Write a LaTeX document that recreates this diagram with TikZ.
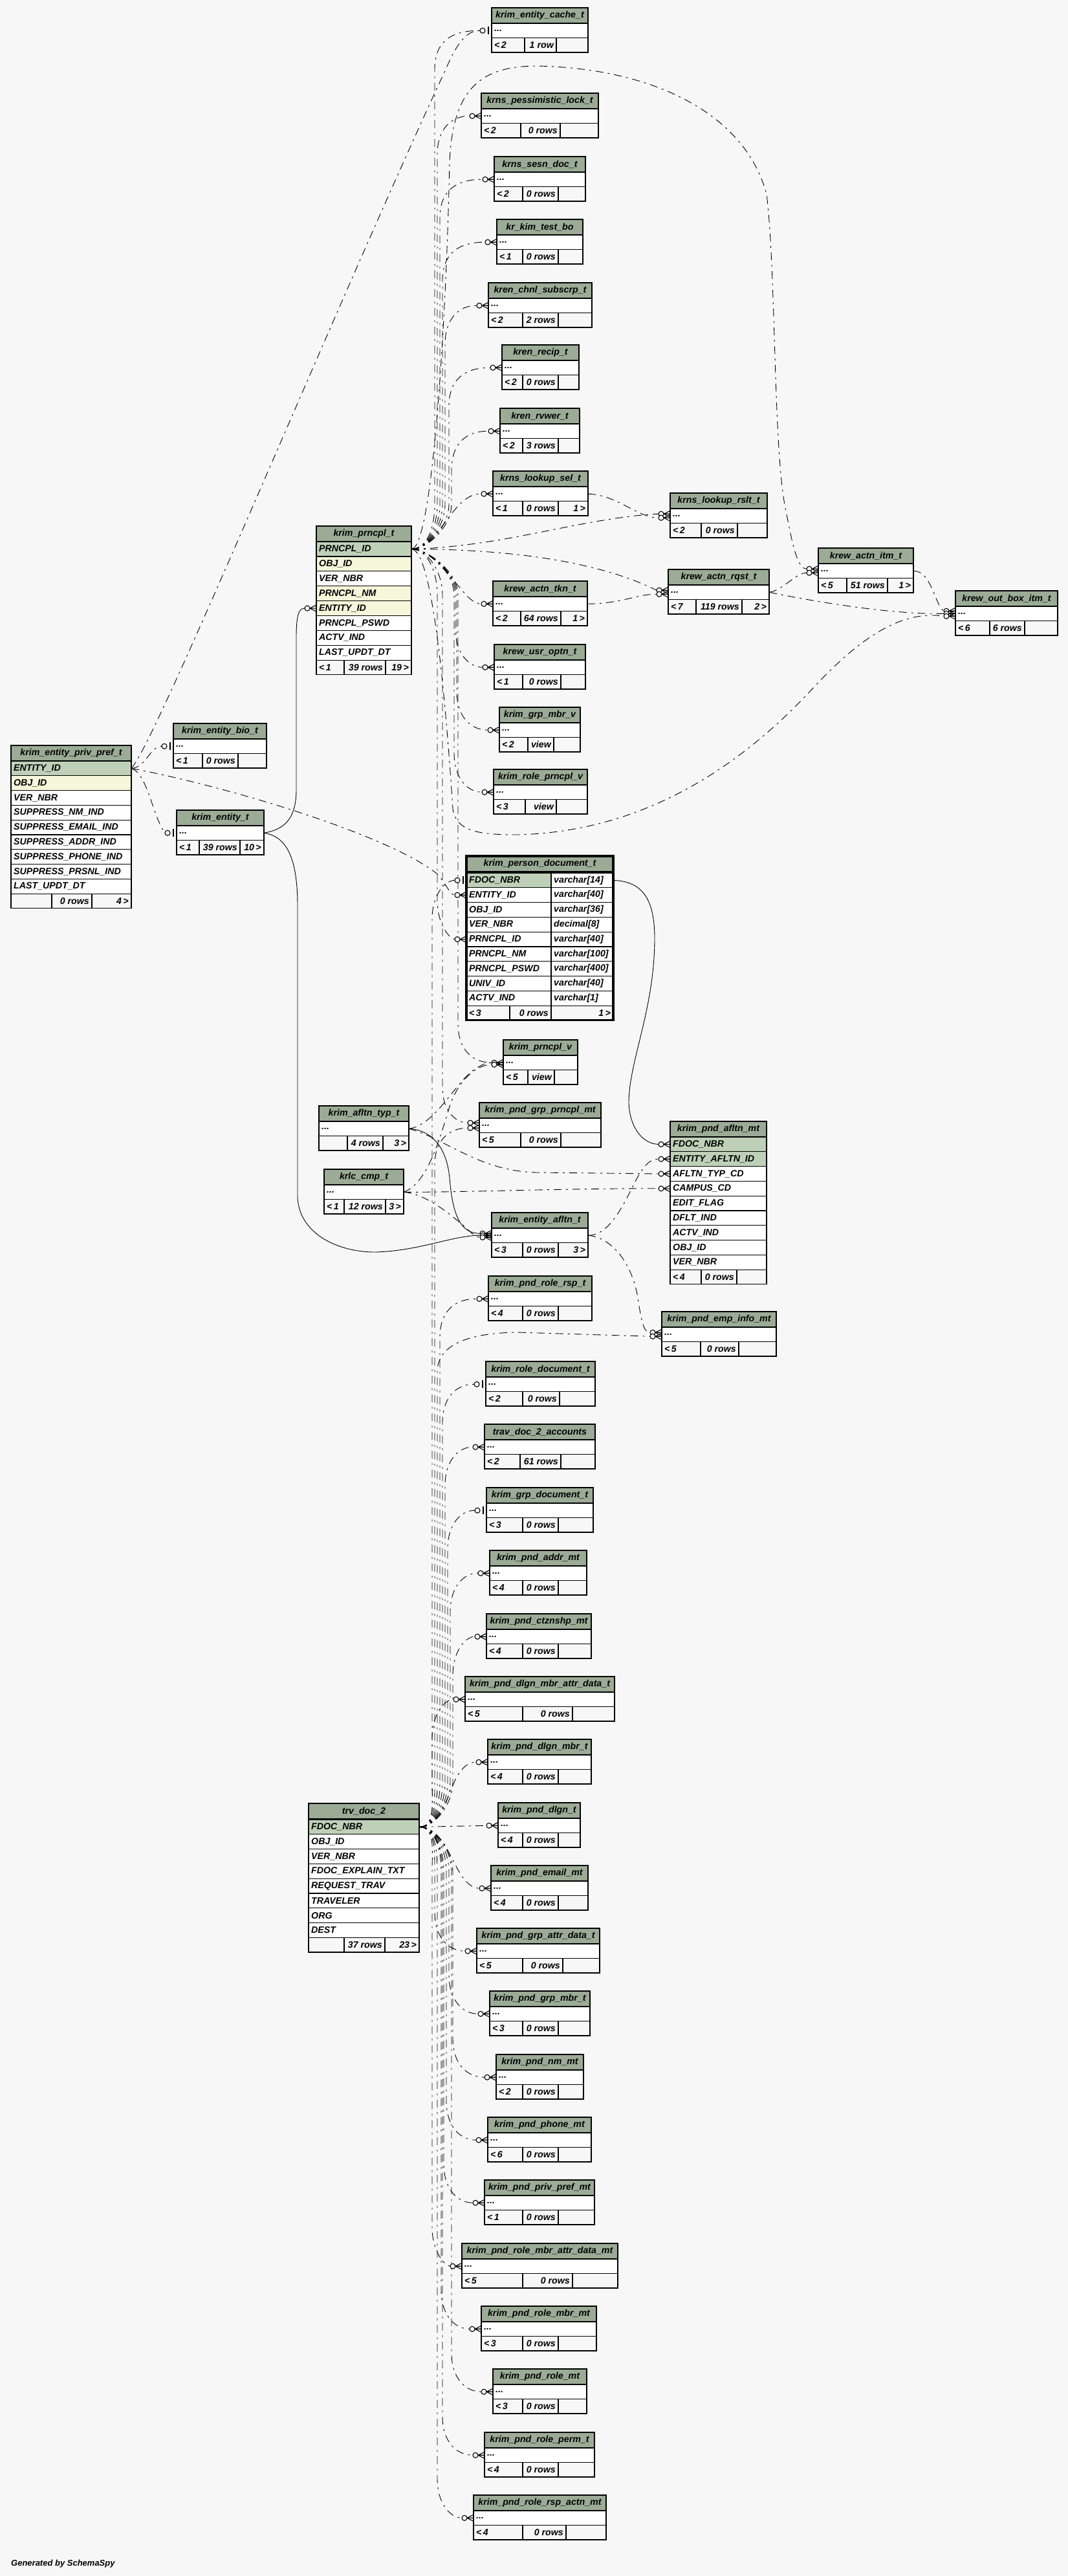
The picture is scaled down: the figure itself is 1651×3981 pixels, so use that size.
\documentclass[tikz,border=0pt]{standalone}
\usepackage{fontspec}
\setmainfont{Liberation Sans}
\usetikzlibrary{calc}
\definecolor{bg}{HTML}{F7F7F7}
\definecolor{hd}{HTML}{9BAB96}
\definecolor{pk}{HTML}{BED1B8}
\definecolor{ix}{HTML}{F4F7DA}
\pgfdeclarelayer{bgl}
\pgfsetlayers{bgl,main}
\tikzset{
  cellb/.style={draw=black, line width=1.2pt, inner sep=0pt, outer sep=0pt, anchor=north west},
  txt/.style={font=\fontsize{14.2}{16}\selectfont\bfseries\itshape, inner sep=0pt, text=black},
  rel/.style={draw=black, line width=0.9pt, dash pattern=on 12pt off 7pt on 3pt off 7pt},
  fk/.style={draw=black, line width=0.9pt},
  mk/.style={draw=black, line width=1.1pt},
}
\newcommand\hcell[5]{%
  \node[cellb, fill=hd, minimum width={#3-#2}, minimum height=24] (#1-h) at ({#2},{#4}) {};
  \node[txt] (#1-ht) at (#1-h.center) {#5};}
\newcommand\rcell[7]{%
  \node[cellb, fill=#6, minimum width={#3-#2}, minimum height={#5}] (#1) at ({#2},{#4}) {};
  \node[txt, anchor=west] (#1-t) at ([xshift=4pt]#1.west) {#7};}
\newcommand\stbl[5]{\hcell{#1}{#2}{#3}{#4}{#5}\rcell{#1-r}{#2}{#3}{#4+24}{22.5}{white}{...}}
\newcommand\fcells[9]{%
  \node[cellb, fill=bg, minimum width={#3-#2}, minimum height=22.5] (#1-f1) at ({#2},{#6}) {};
  \node[cellb, fill=bg, minimum width={#4-#3}, minimum height=22.5] (#1-f2) at ({#3},{#6}) {};
  \node[cellb, fill=bg, minimum width={#5-#4}, minimum height=22.5] (#1-f3) at ({#4},{#6}) {};
  \node[txt, anchor=west] (#1-f1t) at ([xshift=4pt]#1-f1.west) {#7};
  \node[txt, anchor=east] (#1-f2t) at ([xshift=-4pt]#1-f2.east) {#8};
  \node[txt, anchor=east] (#1-f3t) at ([xshift=-4pt]#1-f3.east) {#9};}
\newcommand\crow[2][0]{%
  \draw[mk] ([xshift=-10pt,yshift=#1pt]#2.west) -- ([yshift=#1pt+5pt]#2.west)
    ([xshift=-10pt,yshift=#1pt]#2.west) -- ([yshift=#1pt]#2.west)
    ([xshift=-10pt,yshift=#1pt]#2.west) -- ([yshift=#1pt-5pt]#2.west);
  \draw[mk, fill=bg] ([xshift=-14pt,yshift=#1pt]#2.west) circle (4pt);}
\newcommand\onebar[2][0]{%
  \draw[mk, line width=2.2pt] ([xshift=-5pt,yshift=#1pt+6pt]#2.west) -- ([xshift=-5pt,yshift=#1pt-6pt]#2.west);
  \draw[mk, fill=bg] ([xshift=-14pt,yshift=#1pt]#2.west) circle (4pt);}
\newcommand\eup[5]{\draw[rel] (#1) .. controls +(25,0) and ({#3},{#4-35}) .. ({#3},{#4-70}) -- ({#3},{#5+60}) .. controls ({#3},{#5+22}) and ({#3+20},{#5}) .. ([xshift=-18pt]#2.west);}
\newcommand\edn[5]{\draw[rel] (#1) .. controls +(25,0) and ({#3},{#4+35}) .. ({#3},{#4+70}) -- ({#3},{#5-60}) .. controls ({#3},{#5-22}) and ({#3+20},{#5}) .. ([xshift=-18pt]#2.west);}

\begin{document}
\begin{tikzpicture}[x=1pt,y=-1pt]
\begin{pgfonlayer}{bgl}
\fill[bg] (0,0) rectangle (1651,3981);
\end{pgfonlayer}
\useasboundingbox (0,0) rectangle (1651,3981);

% ---------- small tables ----------
\stbl{cache}{760}{909}{12}{krim\_entity\_cache\_t}
\fcells{cache}{760}{811}{860}{909}{12+46.5}{<\,2}{1 row}{}
\stbl{plock}{744}{925}{144}{krns\_pessimistic\_lock\_t}
\fcells{plock}{744}{805}{866}{925}{144+46.5}{<\,2}{0 rows}{}
\stbl{sesn}{764}{905}{242}{krns\_sesn\_doc\_t}
\fcells{sesn}{764}{808}{863}{905}{242+46.5}{<\,2}{0 rows}{}
\stbl{ktb}{768}{901}{339}{kr\_kim\_test\_bo}
\fcells{ktb}{768}{808}{863}{901}{339+46.5}{<\,1}{0 rows}{}
\stbl{chnl}{755}{915}{437}{kren\_chnl\_subscrp\_t}
\fcells{chnl}{755}{808}{863}{915}{437+46.5}{<\,2}{2 rows}{}
\stbl{recip}{776}{895}{533}{kren\_recip\_t}
\fcells{recip}{776}{808}{863}{895}{533+46.5}{<\,2}{0 rows}{}
\stbl{rvwer}{773}{896}{631}{kren\_rvwer\_t}
\fcells{rvwer}{773}{808}{863}{896}{631+46.5}{<\,2}{3 rows}{}
\stbl{lsel}{762}{909}{728}{krns\_lookup\_sel\_t}
\fcells{lsel}{762}{808}{863}{909}{728+46.5}{<\,1}{0 rows}{1\,>}
\stbl{lrslt}{1036}{1186}{762}{krns\_lookup\_rslt\_t}
\fcells{lrslt}{1036}{1084}{1140}{1186}{762+46.5}{<\,2}{0 rows}{}
\stbl{arqst}{1033}{1189}{880}{krew\_actn\_rqst\_t}
\fcells{arqst}{1033}{1076}{1147}{1189}{880+46.5}{<\,7}{119 rows}{2\,>}
\stbl{aitm}{1265}{1412}{847}{krew\_actn\_itm\_t}
\fcells{aitm}{1265}{1309}{1372}{1412}{847+46.5}{<\,5}{51 rows}{1\,>}
\stbl{obox}{1477}{1635}{913}{krew\_out\_box\_itm\_t}
\fcells{obox}{1477}{1530}{1584}{1635}{913+46.5}{<\,6}{6 rows}{}
\stbl{atkn}{762}{908}{898}{krew\_actn\_tkn\_t}
\fcells{atkn}{762}{805}{867}{908}{898+46.5}{<\,2}{64 rows}{1\,>}
\stbl{uoptn}{764}{905}{996}{krew\_usr\_optn\_t}
\fcells{uoptn}{764}{808}{867}{905}{996+46.5}{<\,1}{0 rows}{}
\stbl{gmbrv}{772}{897}{1093}{krim\_grp\_mbr\_v}
\fcells{gmbrv}{772}{816}{856}{897}{1093+46.5}{<\,2}{view}{}
\stbl{rprv}{763}{908}{1189}{krim\_role\_prncpl\_v}
\fcells{rprv}{763}{812}{860}{908}{1189+46.5}{<\,3}{view}{}
\stbl{ebio}{268}{412}{1118}{krim\_entity\_bio\_t}
\fcells{ebio}{268}{313}{368}{412}{1118+46.5}{<\,1}{0 rows}{}
\stbl{ent}{273}{408}{1252}{krim\_entity\_t}
\fcells{ent}{273}{308}{371}{408}{1252+46.5}{<\,1}{39 rows}{10\,>}
\stbl{prv}{778}{893}{1607}{krim\_prncpl\_v}
\fcells{prv}{778}{816}{857}{893}{1607+46.5}{<\,5}{view}{}
\stbl{pgp}{741}{929}{1704}{krim\_pnd\_grp\_prncpl\_mt}
\fcells{pgp}{741}{805}{867}{929}{1704+46.5}{<\,5}{0 rows}{}
\stbl{atyp}{493}{632}{1709}{krim\_afltn\_typ\_t}
\fcells{atyp}{493}{537}{592}{632}{1709+46.5}{}{4 rows}{3\,>}
\stbl{cmp}{501}{624}{1807}{krlc\_cmp\_t}
\fcells{cmp}{501}{532}{596}{624}{1807+46.5}{<\,1}{12 rows}{3\,>}
\stbl{eafl}{760}{909}{1874}{krim\_entity\_afltn\_t}
\fcells{eafl}{760}{808}{863}{909}{1874+46.5}{<\,3}{0 rows}{3\,>}
\stbl{emp}{1023}{1200}{2027}{krim\_pnd\_emp\_info\_mt}
\fcells{emp}{1023}{1083}{1142}{1200}{2027+46.5}{<\,5}{0 rows}{}
\stbl{rrsp}{755}{915}{1972}{krim\_pnd\_role\_rsp\_t}
\fcells{rrsp}{755}{808}{863}{915}{1972+46.5}{<\,4}{0 rows}{}
\stbl{rdoc}{751}{920}{2104}{krim\_role\_document\_t}
\fcells{rdoc}{751}{808}{865}{920}{2104+46.5}{<\,2}{0 rows}{}
\stbl{acct}{749}{920}{2201}{trav\_doc\_2\_accounts}
\fcells{acct}{749}{804}{867}{920}{2201+46.5}{<\,2}{61 rows}{}
\stbl{gdoc}{752}{917}{2299}{krim\_grp\_document\_t}
\fcells{gdoc}{752}{808}{863}{917}{2299+46.5}{<\,3}{0 rows}{}
\stbl{addr}{757}{907}{2396}{krim\_pnd\_addr\_mt}
\fcells{addr}{757}{808}{863}{907}{2396+46.5}{<\,4}{0 rows}{}
\stbl{ctz}{752}{914}{2494}{krim\_pnd\_ctznshp\_mt}
\fcells{ctz}{752}{808}{863}{914}{2494+46.5}{<\,4}{0 rows}{}
\stbl{dmad}{719}{950}{2591}{krim\_pnd\_dlgn\_mbr\_attr\_data\_t}
\fcells{dmad}{719}{808}{885}{950}{2591+46.5}{<\,5}{0 rows}{}
\stbl{dmbr}{754}{914}{2688}{krim\_pnd\_dlgn\_mbr\_t}
\fcells{dmbr}{754}{808}{863}{914}{2688+46.5}{<\,4}{0 rows}{}
\stbl{dlgn}{770}{897}{2786}{krim\_pnd\_dlgn\_t}
\fcells{dlgn}{770}{808}{863}{897}{2786+46.5}{<\,4}{0 rows}{}
\stbl{email}{759}{909}{2883}{krim\_pnd\_email\_mt}
\fcells{email}{759}{808}{863}{909}{2883+46.5}{<\,4}{0 rows}{}
\stbl{gad}{737}{927}{2980}{krim\_pnd\_grp\_attr\_data\_t}
\fcells{gad}{737}{808}{870}{927}{2980+46.5}{<\,5}{0 rows}{}
\stbl{gmbr}{757}{912}{3077}{krim\_pnd\_grp\_mbr\_t}
\fcells{gmbr}{757}{808}{863}{912}{3077+46.5}{<\,3}{0 rows}{}
\stbl{nm}{767}{902}{3175}{krim\_pnd\_nm\_mt}
\fcells{nm}{767}{808}{863}{902}{3175+46.5}{<\,2}{0 rows}{}
\stbl{phone}{754}{914}{3272}{krim\_pnd\_phone\_mt}
\fcells{phone}{754}{808}{863}{914}{3272+46.5}{<\,6}{0 rows}{}
\stbl{ppref}{749}{919}{3369}{krim\_pnd\_priv\_pref\_mt}
\fcells{ppref}{749}{808}{863}{919}{3369+46.5}{<\,1}{0 rows}{}
\stbl{rmad}{714}{955}{3467}{krim\_pnd\_role\_mbr\_attr\_data\_mt}
\fcells{rmad}{714}{808}{885}{955}{3467+46.5}{<\,5}{0 rows}{}
\stbl{rmbr}{744}{922}{3564}{krim\_pnd\_role\_mbr\_mt}
\fcells{rmbr}{744}{808}{863}{922}{3564+46.5}{<\,3}{0 rows}{}
\stbl{rmt}{762}{907}{3661}{krim\_pnd\_role\_mt}
\fcells{rmt}{762}{808}{863}{907}{3661+46.5}{<\,3}{0 rows}{}
\stbl{rperm}{749}{919}{3759}{krim\_pnd\_role\_perm\_t}
\fcells{rperm}{749}{808}{863}{919}{3759+46.5}{<\,4}{0 rows}{}
\stbl{rra}{732}{937}{3856}{krim\_pnd\_role\_rsp\_actn\_mt}
\fcells{rra}{732}{808}{875}{937}{3856+46.5}{<\,4}{0 rows}{}

% ---------- krim_prncpl_t ----------
\hcell{prn}{489}{636}{813}{krim\_prncpl\_t}
\rcell{prn-1}{489}{636}{837}{22.9}{pk}{PRNCPL\_ID}
\rcell{prn-2}{489}{636}{859.9}{22.9}{ix}{OBJ\_ID}
\rcell{prn-3}{489}{636}{882.8}{22.9}{white}{VER\_NBR}
\rcell{prn-4}{489}{636}{905.7}{22.9}{ix}{PRNCPL\_NM}
\rcell{prn-5}{489}{636}{928.6}{22.9}{ix}{ENTITY\_ID}
\rcell{prn-6}{489}{636}{951.5}{22.9}{white}{PRNCPL\_PSWD}
\rcell{prn-7}{489}{636}{974.4}{22.9}{white}{ACTV\_IND}
\rcell{prn-8}{489}{636}{997.3}{22.9}{white}{LAST\_UPDT\_DT}
\fcells{prn}{489}{532}{596}{636}{1020.2}{<\,1}{39 rows}{19\,>}

% ---------- krim_entity_priv_pref_t ----------
\hcell{epp}{17}{203}{1152}{krim\_entity\_priv\_pref\_t}
\rcell{epp-1}{17}{203}{1176}{22.8}{pk}{ENTITY\_ID}
\rcell{epp-2}{17}{203}{1198.8}{22.8}{ix}{OBJ\_ID}
\rcell{epp-3}{17}{203}{1221.6}{22.8}{white}{VER\_NBR}
\rcell{epp-4}{17}{203}{1244.4}{22.8}{white}{SUPPRESS\_NM\_IND}
\rcell{epp-5}{17}{203}{1267.2}{22.8}{white}{SUPPRESS\_EMAIL\_IND}
\rcell{epp-6}{17}{203}{1290}{22.8}{white}{SUPPRESS\_ADDR\_IND}
\rcell{epp-7}{17}{203}{1312.8}{22.8}{white}{SUPPRESS\_PHONE\_IND}
\rcell{epp-8}{17}{203}{1335.6}{22.8}{white}{SUPPRESS\_PRSNL\_IND}
\rcell{epp-9}{17}{203}{1358.4}{22.8}{white}{LAST\_UPDT\_DT}
\fcells{epp}{17}{80}{142}{203}{1381.2}{}{0 rows}{4\,>}

% ---------- krim_person_document_t ----------
\hcell{pdoc}{721}{948}{1323}{krim\_person\_document\_t}
\rcell{pdoc-1}{721}{852}{1349}{22.8}{pk}{FDOC\_NBR}
\rcell{pdoc-1b}{852}{948}{1349}{22.8}{white}{varchar[14]}
\rcell{pdoc-2}{721}{852}{1371.8}{22.8}{white}{ENTITY\_ID}
\rcell{pdoc-2b}{852}{948}{1371.8}{22.8}{white}{varchar[40]}
\rcell{pdoc-3}{721}{852}{1394.6}{22.8}{white}{OBJ\_ID}
\rcell{pdoc-3b}{852}{948}{1394.6}{22.8}{white}{varchar[36]}
\rcell{pdoc-4}{721}{852}{1417.4}{22.8}{white}{VER\_NBR}
\rcell{pdoc-4b}{852}{948}{1417.4}{22.8}{white}{decimal[8]}
\rcell{pdoc-5}{721}{852}{1440.2}{22.8}{white}{PRNCPL\_ID}
\rcell{pdoc-5b}{852}{948}{1440.2}{22.8}{white}{varchar[40]}
\rcell{pdoc-6}{721}{852}{1463}{22.8}{white}{PRNCPL\_NM}
\rcell{pdoc-6b}{852}{948}{1463}{22.8}{white}{varchar[100]}
\rcell{pdoc-7}{721}{852}{1485.8}{22.8}{white}{PRNCPL\_PSWD}
\rcell{pdoc-7b}{852}{948}{1485.8}{22.8}{white}{varchar[400]}
\rcell{pdoc-8}{721}{852}{1508.6}{22.8}{white}{UNIV\_ID}
\rcell{pdoc-8b}{852}{948}{1508.6}{22.8}{white}{varchar[40]}
\rcell{pdoc-9}{721}{852}{1531.4}{22.8}{white}{ACTV\_IND}
\rcell{pdoc-9b}{852}{948}{1531.4}{22.8}{white}{varchar[1]}
\fcells{pdoc}{721}{788}{852}{948}{1554.2}{<\,3}{0 rows}{1\,>}
\draw[line width=3.5pt] (pdoc-h.north west) rectangle (pdoc-f3.south east);

% ---------- krim_pnd_afltn_mt ----------
\hcell{pafl}{1036}{1185}{1733}{krim\_pnd\_afltn\_mt}
\rcell{pafl-1}{1036}{1185}{1757}{22.8}{pk}{FDOC\_NBR}
\rcell{pafl-2}{1036}{1185}{1779.8}{22.8}{pk}{ENTITY\_AFLTN\_ID}
\rcell{pafl-3}{1036}{1185}{1802.6}{22.8}{white}{AFLTN\_TYP\_CD}
\rcell{pafl-4}{1036}{1185}{1825.4}{22.8}{white}{CAMPUS\_CD}
\rcell{pafl-5}{1036}{1185}{1848.2}{22.8}{white}{EDIT\_FLAG}
\rcell{pafl-6}{1036}{1185}{1871}{22.8}{white}{DFLT\_IND}
\rcell{pafl-7}{1036}{1185}{1893.8}{22.8}{white}{ACTV\_IND}
\rcell{pafl-8}{1036}{1185}{1916.6}{22.8}{white}{OBJ\_ID}
\rcell{pafl-9}{1036}{1185}{1939.4}{22.8}{white}{VER\_NBR}
\fcells{pafl}{1036}{1084}{1139}{1185}{1962.2}{<\,4}{0 rows}{}

% ---------- trv_doc_2 ----------
\hcell{trv}{477}{648}{2787}{trv\_doc\_2}
\rcell{trv-1}{477}{648}{2812}{22.8}{pk}{FDOC\_NBR}
\rcell{trv-2}{477}{648}{2834.8}{22.8}{white}{OBJ\_ID}
\rcell{trv-3}{477}{648}{2857.6}{22.8}{white}{VER\_NBR}
\rcell{trv-4}{477}{648}{2880.4}{22.8}{white}{FDOC\_EXPLAIN\_TXT}
\rcell{trv-5}{477}{648}{2903.2}{22.8}{white}{REQUEST\_TRAV}
\rcell{trv-6}{477}{648}{2926}{22.8}{white}{TRAVELER}
\rcell{trv-7}{477}{648}{2948.8}{22.8}{white}{ORG}
\rcell{trv-8}{477}{648}{2971.6}{22.8}{white}{DEST}
\fcells{trv}{477}{532}{595}{648}{2994.4}{}{37 rows}{23\,>}

\node[txt, anchor=west, font=\fontsize{13}{15}\selectfont\bfseries\itshape] (gen) at (17,3962) {Generated by SchemaSpy};

% ---------- connectors ----------
\begin{pgfonlayer}{bgl}
% from krim_prncpl_t.PRNCPL_ID
\eup{prn-1.east}{cache-r}{672}{849}{47}
\eup{prn-1.east}{plock-r}{676}{849}{179}
\eup{prn-1.east}{sesn-r}{680}{849}{277}
\eup{prn-1.east}{ktb-r}{684}{849}{374}
\eup{prn-1.east}{chnl-r}{688}{849}{472}
\eup{prn-1.east}{recip-r}{694}{849}{568}
\eup{prn-1.east}{rvwer-r}{698}{849}{666}
\draw[rel] (prn-1.east) .. controls (665,849) and (690,800) .. (710,780) .. controls (722,768) and (732,763) .. ([xshift=-18pt]lsel-r.west);
\draw[rel] (prn-1.east) .. controls (780,845) and (900,800) .. ([xshift=-18pt,yshift=3pt]lrslt-r.west);
\draw[rel] (prn-1.east) .. controls (800,849) and (930,870) .. ([xshift=-18pt,yshift=3pt]arqst-r.west);
\draw[rel] (prn-1.east) .. controls (668,849) and (690,500) .. (695,250) .. controls (700,140) and (740,102) .. (830,102) .. controls (1000,105) and (1150,170) .. (1185,300) .. controls (1200,420) and (1195,700) .. (1215,790) .. controls (1225,840) and (1232,879) .. ([xshift=-18pt,yshift=3pt]aitm-r.west);
\draw[rel] (prn-1.east) .. controls (670,849) and (690,1100) .. (700,1250) .. controls (705,1285) and (740,1290) .. (800,1290) .. controls (1000,1285) and (1150,1180) .. (1260,1060) .. controls (1340,975) and (1400,944) .. ([xshift=-18pt,yshift=-4pt]obox-r.west);
\draw[rel] (prn-1.east) .. controls (665,849) and (690,885) .. (710,907) .. controls (722,922) and (732,933) .. ([xshift=-18pt]atkn-r.west);
\edn{prn-1.east}{uoptn-r}{704}{849}{1031}
\edn{prn-1.east}{gmbrv-r}{706}{849}{1128}
\edn{prn-1.east}{rprv-r}{702}{849}{1224}
\edn{prn-1.east}{pdoc-5}{676}{849}{1451.6}
\edn{prn-1.east}{prv-r}{708}{849}{1642}
\draw[rel] (prn-1.east) .. controls +(25,0) and (684,884) .. (684,919) -- (684,1680) .. controls (684,1717) and (704,1735) .. ([xshift=-18pt,yshift=4pt]pgp-r.west);
% from krim_entity_priv_pref_t.ENTITY_ID
\draw[rel] (epp-1.east) .. controls (225,1187) and (232,1153) .. ([xshift=-18pt]ebio-r.west);
\draw[rel] (epp-1.east) .. controls (228,1195) and (236,1262) .. ([xshift=-18pt]ent-r.west);
\draw[rel] (epp-1.east) .. controls (350,1215) and (600,1290) .. (675,1350) .. controls (690,1365) and (695,1383) .. ([xshift=-18pt]pdoc-2.west);
\draw[rel] (epp-1.east) .. controls (240,1150) and (520,470) .. (690,105) .. controls (705,70) and (720,47) .. ([xshift=-18pt]cache-r.west);
% from krim_entity_t
\draw[fk] (ent-r.east) .. controls (440,1282) and (458,1265) .. (458,1220) -- (458,985) .. controls (458,950) and (462,940) .. ([xshift=-18pt]prn-5.west);
\draw[fk] (ent-r.east) .. controls (440,1292) and (460,1320) .. (460,1400) -- (460,1850) .. controls (462,1905) and (520,1935) .. (580,1935) .. controls (650,1933) and (700,1909) .. ([xshift=-18pt]eafl-r.west);
% from krim_afltn_typ_t
\draw[fk] (atyp-r.east) .. controls (665,1746) and (690,1770) .. (695,1820) .. controls (700,1885) and (715,1906) .. ([xshift=-18pt,yshift=3pt]eafl-r.west);
\draw[rel] (atyp-r.east) .. controls (690,1760) and (740,1810) .. (830,1812) -- ([xshift=-18pt]pafl-3.west);
\draw[rel] (atyp-r.east) .. controls (670,1740) and (700,1680) .. (730,1655) .. controls (745,1645) and (752,1642) .. ([xshift=-18pt]prv-r.west);
% from krlc_cmp_t
\draw[rel] (cmp-r.east) .. controls (700,1843) and (900,1836) .. ([xshift=-18pt]pafl-4.west);
\draw[rel] (cmp-r.east) .. controls (660,1845) and (700,1880) .. (720,1897) .. controls (728,1905) and (735,1912) .. ([xshift=-18pt,yshift=-3pt]eafl-r.west);
\draw[rel] (cmp-r.east) .. controls (660,1830) and (680,1760) .. (695,1710) .. controls (710,1665) and (740,1645) .. ([xshift=-18pt,yshift=-3pt]prv-r.west);
% from krim_entity_afltn_t
\draw[rel] (eafl-r.east) .. controls (940,1909) and (960,1870) .. (980,1830) .. controls (995,1800) and (1005,1791) .. ([xshift=-18pt]pafl-2.west);
\draw[rel] (eafl-r.east) .. controls (945,1912) and (975,1950) .. (985,2000) .. controls (992,2045) and (995,2059) .. ([xshift=-18pt,yshift=3pt]emp-r.west);
% from krim_person_document_t.FDOC_NBR (real key)
\draw[fk] (pdoc-1b.east) .. controls (990,1362) and (1012,1385) .. (1012,1450) .. controls (1012,1560) and (972,1640) .. (972,1705) .. controls (974,1745) and (995,1768) .. ([xshift=-18pt]pafl-1.west);
% krew / krns chain
\draw[rel] (lsel-r.east) .. controls (955,765) and (985,800) .. ([xshift=-18pt,yshift=-3pt]lrslt-r.west);
\draw[rel] (atkn-r.east) .. controls (960,933) and (985,918) .. ([xshift=-18pt,yshift=-3pt]arqst-r.west);
\draw[rel] (arqst-r.east) .. controls (1210,913) and (1230,885) .. ([xshift=-18pt,yshift=-3pt]aitm-r.west);
\draw[rel] (arqst-r.east) .. controls (1260,930) and (1380,950) .. ([xshift=-18pt]obox-r.west);
\draw[rel] (aitm-r.east) .. controls (1440,882) and (1445,935) .. ([xshift=-18pt,yshift=4pt]obox-r.west);
% from trv_doc_2.FDOC_NBR
\eup{trv-1.east}{pdoc-1}{668}{2823}{1360.4}
\draw[rel] (trv-1.east) .. controls +(25,0) and (672,2788) .. (672,2753) -- (672,1800) .. controls (672,1765) and (692,1743) .. ([xshift=-18pt,yshift=-4pt]pgp-r.west);
\draw[rel] (trv-1.east) .. controls +(25,0) and (676,2788) .. (676,2753) -- (676,2120) .. controls (676,2080) and (720,2060) .. (800,2059) -- ([xshift=-18pt,yshift=-3pt]emp-r.west);
\eup{trv-1.east}{rrsp-r}{680}{2823}{2007}
\eup{trv-1.east}{rdoc-r}{684}{2823}{2139}
\eup{trv-1.east}{acct-r}{688}{2823}{2236}
\eup{trv-1.east}{gdoc-r}{692}{2823}{2334}
\eup{trv-1.east}{addr-r}{696}{2823}{2431}
\eup{trv-1.east}{ctz-r}{700}{2823}{2529}
\eup{trv-1.east}{dmad-r}{668}{2823}{2626}
\draw[rel] (trv-1.east) .. controls (680,2823) and (690,2780) .. (705,2748) .. controls (715,2730) and (725,2723) .. ([xshift=-18pt]dmbr-r.west);
\draw[rel] (trv-1.east) -- ([xshift=-18pt]dlgn-r.west);
\draw[rel] (trv-1.east) .. controls (680,2823) and (695,2868) .. (710,2893) .. controls (720,2910) and (730,2918) .. ([xshift=-18pt]email-r.west);
\edn{trv-1.east}{gad-r}{672}{2823}{3015}
\edn{trv-1.east}{gmbr-r}{694}{2823}{3112}
\edn{trv-1.east}{nm-r}{700}{2823}{3210}
\edn{trv-1.east}{phone-r}{690}{2823}{3307}
\edn{trv-1.east}{ppref-r}{686}{2823}{3404}
\edn{trv-1.east}{rmad-r}{668}{2823}{3502}
\edn{trv-1.east}{rmbr-r}{682}{2823}{3599}
\edn{trv-1.east}{rmt-r}{698}{2823}{3696}
\edn{trv-1.east}{rperm-r}{684}{2823}{3794}
\edn{trv-1.east}{rra-r}{676}{2823}{3891}
\end{pgfonlayer}

% ---------- end markers ----------
\onebar{cache-r}
\onebar{ebio-r}
\onebar{ent-r}
\onebar{rdoc-r}
\onebar{gdoc-r}
\onebar{pdoc-1}
\crow{plock-r}\crow{sesn-r}\crow{ktb-r}\crow{chnl-r}\crow{recip-r}\crow{rvwer-r}\crow{lsel-r}
\crow[3]{lrslt-r}\crow[-3]{lrslt-r}
\crow[3]{arqst-r}\crow[-3]{arqst-r}
\crow[3]{aitm-r}\crow[-3]{aitm-r}
\crow[4]{obox-r}\crow{obox-r}\crow[-4]{obox-r}
\crow{atkn-r}\crow{uoptn-r}\crow{gmbrv-r}\crow{rprv-r}
\crow{pdoc-2}\crow{pdoc-5}
\crow{prv-r}\crow[-3]{prv-r}
\crow[4]{pgp-r}\crow[-4]{pgp-r}
\crow[3]{eafl-r}\crow{eafl-r}\crow[-3]{eafl-r}
\crow{pafl-1}\crow{pafl-2}\crow{pafl-3}\crow{pafl-4}
\crow[3]{emp-r}\crow[-3]{emp-r}
\crow{prn-5}
\crow{rrsp-r}\crow{acct-r}\crow{addr-r}\crow{ctz-r}\crow{dmad-r}\crow{dmbr-r}\crow{dlgn-r}
\crow{email-r}\crow{gad-r}\crow{gmbr-r}\crow{nm-r}\crow{phone-r}\crow{ppref-r}
\crow{rmad-r}\crow{rmbr-r}\crow{rmt-r}\crow{rperm-r}\crow{rra-r}
\end{tikzpicture}
\end{document}
